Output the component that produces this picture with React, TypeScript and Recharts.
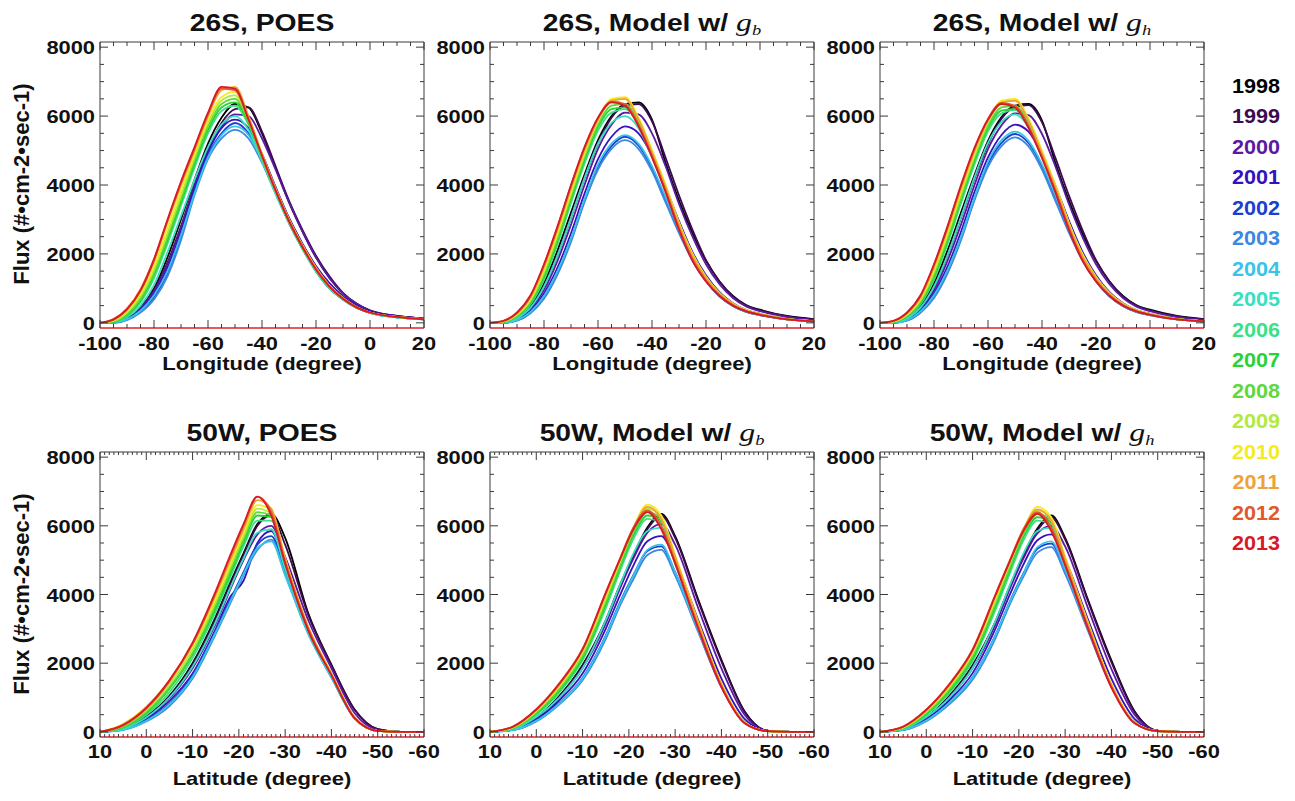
import { LineChart, Line, XAxis, YAxis } from "recharts";

const YEARS = ["1998", "1999", "2000", "2001", "2002", "2003", "2004", "2005", "2006", "2007", "2008", "2009", "2010", "2011", "2012", "2013"];
const COLORS = ["#000000", "#3d0b4f", "#5c1aa2", "#3412c0", "#1c3fd0", "#3a88e0", "#38c4e8", "#36e0c0", "#3ce088", "#2ad234", "#5fd83a", "#b2ea3c", "#f4ec1c", "#eea33a", "#e2582a", "#d81a26"];

// longitude grid (top row) and latitude grid (bottom row)
const LON = [-100, -95, -90, -85, -80, -75, -70, -65, -60, -55, -50, -45, -40, -35, -30, -25, -20, -15, -10, -5, 0, 10, 20];
const LAT = [10, 5, 0, -5, -10, -15, -18, -21, -24, -27, -30, -35, -40, -45, -50, -55, -60];

const LON_TICKS = [-100, -80, -60, -40, -20, 0, 20];
const LAT_TICKS = [10, 0, -10, -20, -30, -40, -50, -60];
const FLUX_TICKS = [0, 2000, 4000, 6000, 8000];

// 26S, POES (rows follow YEARS)
const poes26S = [
  [0, 30, 150, 450, 1000, 1900, 3000, 4150, 5200, 5950, 6350, 6250, 5500, 4500, 3500, 2650, 1900, 1300, 850, 550, 350, 200, 120],
  [0, 20, 140, 430, 950, 1750, 2800, 4000, 5050, 5800, 6200, 6250, 5550, 4550, 3550, 2700, 1950, 1350, 870, 560, 360, 200, 120],
  [0, 15, 130, 420, 920, 1700, 2750, 3950, 5000, 5700, 6050, 6000, 5350, 4450, 3500, 2650, 1900, 1300, 850, 550, 350, 200, 120],
  [0, 10, 120, 380, 850, 1600, 2650, 3900, 4950, 5650, 5900, 5650, 4900, 3950, 3050, 2300, 1650, 1150, 770, 500, 330, 180, 110],
  [0, 5, 100, 330, 750, 1450, 2500, 3800, 4850, 5500, 5800, 5500, 4750, 3800, 2900, 2150, 1500, 1000, 680, 440, 290, 160, 100],
  [0, 0, 80, 300, 680, 1350, 2400, 3700, 4750, 5350, 5600, 5350, 4650, 3750, 2900, 2150, 1500, 1000, 680, 440, 290, 160, 100],
  [0, 10, 100, 350, 800, 1500, 2550, 3750, 4800, 5450, 5700, 5450, 4700, 3800, 2900, 2150, 1500, 1000, 680, 440, 290, 160, 100],
  [0, 20, 160, 500, 1100, 2050, 3100, 4150, 5100, 5750, 6000, 5600, 4700, 3750, 2900, 2150, 1500, 1000, 680, 440, 290, 160, 100],
  [0, 30, 200, 600, 1300, 2300, 3400, 4500, 5500, 6150, 6300, 5750, 4750, 3800, 2900, 2150, 1500, 1000, 680, 440, 290, 160, 100],
  [0, 35, 220, 650, 1400, 2400, 3500, 4600, 5600, 6250, 6400, 5800, 4800, 3850, 2950, 2200, 1550, 1050, 700, 450, 300, 170, 100],
  [0, 40, 250, 700, 1450, 2500, 3600, 4700, 5700, 6350, 6500, 5850, 4800, 3850, 2950, 2200, 1550, 1050, 700, 450, 300, 170, 100],
  [0, 60, 300, 780, 1550, 2600, 3700, 4800, 5800, 6450, 6600, 5900, 4850, 3850, 2950, 2200, 1550, 1050, 700, 450, 300, 170, 100],
  [0, 80, 350, 850, 1650, 2750, 3850, 4900, 5900, 6550, 6700, 5950, 4900, 3900, 3000, 2250, 1600, 1080, 720, 460, 300, 170, 110],
  [0, 110, 420, 980, 1850, 2950, 4000, 5000, 6000, 6750, 6850, 6000, 4900, 3900, 3000, 2250, 1600, 1080, 720, 460, 300, 170, 110],
  [0, 90, 380, 920, 1800, 2950, 4050, 5050, 6050, 6800, 6750, 5900, 4850, 3850, 2950, 2200, 1550, 1050, 700, 450, 300, 170, 100],
  [0, 100, 400, 950, 1850, 3000, 4100, 5100, 6100, 6850, 6800, 5900, 4850, 3850, 2950, 2200, 1550, 1050, 700, 450, 300, 170, 100],
];

// 26S, model with g_b
const gb26S = [
  [0, 20, 150, 500, 1150, 2100, 3200, 4300, 5300, 6000, 6350, 6400, 5900, 4650, 3550, 2600, 1800, 1200, 780, 510, 380, 200, 110],
  [0, 15, 135, 460, 1050, 1950, 3050, 4200, 5200, 5950, 6300, 6350, 5850, 4800, 3700, 2700, 1820, 1200, 770, 500, 360, 190, 100],
  [0, 12, 120, 410, 950, 1800, 2850, 4000, 5050, 5750, 6100, 6050, 5500, 4550, 3450, 2500, 1700, 1120, 720, 470, 340, 170, 80],
  [0, 8, 100, 360, 850, 1600, 2600, 3750, 4750, 5400, 5700, 5500, 4850, 3950, 2950, 2050, 1380, 890, 570, 370, 260, 120, 55],
  [0, 3, 70, 300, 740, 1450, 2400, 3550, 4520, 5130, 5400, 5150, 4500, 3600, 2650, 1830, 1220, 780, 490, 320, 230, 100, 45],
  [0, 0, 60, 280, 700, 1400, 2350, 3500, 4450, 5050, 5300, 5050, 4400, 3500, 2600, 1800, 1200, 760, 480, 310, 220, 100, 45],
  [0, 5, 80, 320, 780, 1500, 2450, 3600, 4600, 5200, 5450, 5200, 4550, 3650, 2700, 1850, 1230, 790, 500, 330, 230, 100, 45],
  [0, 15, 130, 440, 1050, 1950, 3050, 4200, 5200, 5800, 6000, 5650, 4800, 3850, 2800, 1900, 1270, 820, 530, 340, 240, 105, 45],
  [0, 25, 170, 540, 1250, 2280, 3480, 4620, 5580, 6100, 6200, 5750, 4850, 3850, 2800, 1900, 1270, 820, 530, 340, 240, 105, 45],
  [0, 30, 190, 580, 1330, 2380, 3580, 4720, 5680, 6200, 6250, 5800, 4900, 3900, 2850, 1950, 1300, 840, 540, 350, 250, 110, 50],
  [0, 35, 210, 620, 1400, 2450, 3650, 4800, 5750, 6300, 6350, 5850, 4950, 3950, 2850, 1950, 1300, 840, 540, 350, 250, 110, 50],
  [0, 40, 230, 660, 1480, 2550, 3750, 4880, 5850, 6450, 6500, 5950, 5000, 4000, 2900, 2000, 1330, 860, 550, 360, 260, 110, 50],
  [0, 45, 250, 700, 1550, 2620, 3820, 4950, 5900, 6500, 6550, 5950, 5000, 4000, 2900, 2000, 1330, 860, 550, 360, 260, 110, 50],
  [0, 50, 270, 740, 1620, 2700, 3900, 5000, 5900, 6450, 6500, 5900, 4950, 3950, 2850, 1950, 1300, 840, 540, 350, 250, 110, 50],
  [0, 55, 290, 780, 1680, 2780, 3980, 5080, 5950, 6420, 6350, 5750, 4850, 3850, 2750, 1850, 1230, 800, 510, 340, 240, 100, 45],
  [0, 60, 300, 800, 1700, 2800, 4000, 5100, 5950, 6400, 6300, 5700, 4800, 3800, 2700, 1800, 1200, 780, 500, 330, 230, 100, 40],
];

// 26S, model with g_h
const gh26S = [
  [0, 20, 150, 500, 1150, 2100, 3200, 4290, 5280, 5970, 6300, 6350, 5870, 4630, 3540, 2590, 1800, 1200, 780, 510, 380, 200, 110],
  [0, 15, 135, 460, 1050, 1950, 3050, 4190, 5180, 5920, 6270, 6320, 5820, 4780, 3690, 2690, 1820, 1200, 770, 500, 360, 190, 100],
  [0, 12, 120, 410, 950, 1800, 2850, 4000, 5040, 5730, 6080, 6030, 5480, 4530, 3440, 2490, 1700, 1120, 720, 470, 340, 170, 80],
  [0, 8, 100, 370, 870, 1630, 2640, 3800, 4800, 5450, 5750, 5550, 4880, 3970, 2960, 2060, 1380, 890, 570, 370, 260, 120, 55],
  [0, 3, 70, 310, 760, 1480, 2450, 3600, 4600, 5220, 5480, 5220, 4550, 3630, 2660, 1840, 1220, 780, 490, 320, 230, 100, 45],
  [0, 0, 60, 290, 720, 1430, 2400, 3560, 4530, 5130, 5380, 5120, 4450, 3530, 2610, 1810, 1200, 760, 480, 310, 220, 100, 45],
  [0, 5, 80, 330, 800, 1530, 2500, 3650, 4680, 5300, 5550, 5280, 4600, 3680, 2710, 1860, 1230, 790, 500, 330, 230, 100, 45],
  [0, 15, 130, 440, 1050, 1960, 3070, 4220, 5220, 5830, 6050, 5680, 4810, 3860, 2800, 1900, 1270, 820, 530, 340, 240, 105, 45],
  [0, 25, 170, 540, 1250, 2280, 3470, 4600, 5560, 6080, 6180, 5730, 4840, 3840, 2790, 1890, 1270, 820, 530, 340, 240, 105, 45],
  [0, 30, 190, 580, 1330, 2380, 3570, 4700, 5650, 6160, 6200, 5770, 4880, 3890, 2840, 1940, 1300, 840, 540, 350, 250, 110, 50],
  [0, 35, 210, 620, 1400, 2450, 3640, 4780, 5720, 6250, 6300, 5820, 4930, 3930, 2840, 1940, 1300, 840, 540, 350, 250, 110, 50],
  [0, 40, 230, 660, 1480, 2550, 3740, 4860, 5820, 6400, 6450, 5920, 4980, 3980, 2890, 1990, 1330, 860, 550, 360, 260, 110, 50],
  [0, 45, 250, 700, 1550, 2620, 3810, 4930, 5860, 6450, 6500, 5920, 4980, 3980, 2890, 1990, 1330, 860, 550, 360, 260, 110, 50],
  [0, 50, 270, 740, 1620, 2700, 3890, 4980, 5860, 6400, 6450, 5860, 4920, 3930, 2840, 1940, 1300, 840, 540, 350, 250, 110, 50],
  [0, 55, 290, 780, 1680, 2780, 3970, 5060, 5920, 6380, 6300, 5700, 4820, 3830, 2740, 1840, 1230, 800, 510, 340, 240, 100, 45],
  [0, 60, 300, 800, 1700, 2800, 4000, 5080, 5900, 6350, 6250, 5650, 4780, 3780, 2690, 1800, 1200, 780, 500, 330, 230, 100, 40],
];

// 50W, POES
const poes50W = [
  [0, 100, 450, 1050, 2000, 3350, 4300, 5200, 6050, 6350, 5650, 3450, 1950, 650, 80, 0, 0],
  [0, 95, 430, 1030, 1950, 3300, 4250, 5150, 6000, 6300, 5450, 3400, 1950, 650, 80, 0, 0],
  [0, 90, 400, 980, 1850, 3150, 4100, 5000, 5750, 6000, 5100, 3250, 1850, 550, 60, 0, 0],
  [0, 80, 370, 900, 1700, 3000, 3900, 4400, 5500, 5850, 4850, 3000, 1650, 420, 30, 0, 0],
  [0, 70, 330, 820, 1650, 2950, 3800, 4650, 5450, 5700, 4700, 2900, 1600, 400, 30, 0, 0],
  [0, 60, 300, 750, 1550, 2850, 3700, 4550, 5300, 5600, 4600, 2850, 1580, 400, 30, 0, 0],
  [0, 60, 320, 800, 1600, 2900, 3750, 4600, 5350, 5550, 4550, 2850, 1580, 400, 30, 0, 0],
  [0, 90, 420, 1000, 1900, 3200, 4150, 5050, 5800, 5900, 4750, 2900, 1620, 400, 30, 0, 0],
  [0, 120, 500, 1150, 2150, 3500, 4450, 5400, 6150, 6150, 4900, 2950, 1650, 400, 30, 0, 0],
  [0, 140, 550, 1250, 2250, 3600, 4550, 5500, 6300, 6250, 4950, 3000, 1680, 410, 30, 0, 0],
  [0, 150, 580, 1300, 2300, 3700, 4650, 5600, 6400, 6300, 4950, 3000, 1680, 410, 30, 0, 0],
  [0, 180, 640, 1380, 2400, 3800, 4750, 5700, 6500, 6350, 5000, 3000, 1680, 410, 30, 0, 0],
  [0, 230, 730, 1480, 2500, 3900, 4850, 5800, 6600, 6450, 5050, 3050, 1700, 420, 30, 0, 0],
  [0, 220, 720, 1500, 2550, 4000, 4950, 5900, 6750, 6500, 5050, 3050, 1700, 420, 30, 0, 0],
  [0, 190, 680, 1470, 2560, 4050, 5050, 6000, 6850, 6400, 4950, 3000, 1650, 400, 30, 0, 0],
  [0, 200, 700, 1500, 2600, 4100, 5100, 6050, 6850, 6300, 4900, 2950, 1650, 400, 30, 0, 0],
];

// 50W, model with g_b
const gb50W = [
  [0, 90, 420, 1050, 1950, 3250, 4250, 5150, 5950, 6350, 5700, 3850, 2100, 600, 30, 0, 0],
  [0, 85, 410, 1030, 1920, 3220, 4220, 5120, 5900, 6300, 5650, 3800, 2050, 580, 30, 0, 0],
  [0, 75, 390, 990, 1850, 3150, 4150, 5050, 5800, 6050, 5450, 3600, 1850, 500, 30, 0, 0],
  [0, 65, 360, 920, 1700, 3000, 3950, 4850, 5550, 5700, 5000, 3250, 1550, 380, 30, 0, 0],
  [0, 55, 320, 840, 1570, 2800, 3750, 4570, 5270, 5400, 4650, 2950, 1320, 280, 20, 0, 0],
  [0, 50, 300, 800, 1500, 2700, 3650, 4450, 5150, 5300, 4550, 2900, 1300, 280, 20, 0, 0],
  [0, 55, 320, 830, 1550, 2780, 3720, 4550, 5300, 5450, 4650, 2950, 1320, 280, 20, 0, 0],
  [0, 80, 430, 1000, 1850, 3250, 4250, 5200, 5850, 5950, 4900, 3050, 1340, 270, 20, 0, 0],
  [0, 100, 500, 1150, 2080, 3600, 4650, 5620, 6200, 6100, 4950, 3050, 1340, 270, 20, 0, 0],
  [0, 110, 530, 1200, 2150, 3700, 4750, 5720, 6300, 6150, 5000, 3100, 1360, 270, 20, 0, 0],
  [0, 120, 560, 1250, 2220, 3780, 4820, 5800, 6400, 6200, 5050, 3100, 1360, 270, 20, 0, 0],
  [0, 130, 600, 1320, 2300, 3880, 4920, 5900, 6500, 6250, 5100, 3150, 1380, 270, 20, 0, 0],
  [0, 140, 620, 1350, 2350, 3950, 4980, 5950, 6620, 6300, 5150, 3200, 1400, 280, 20, 0, 0],
  [0, 150, 640, 1380, 2380, 4000, 5000, 5950, 6550, 6200, 5100, 3150, 1380, 270, 20, 0, 0],
  [0, 160, 660, 1420, 2420, 4050, 5020, 5950, 6450, 6000, 4950, 3050, 1330, 260, 20, 0, 0],
  [0, 150, 650, 1400, 2400, 4050, 5000, 5900, 6400, 5900, 4900, 3000, 1300, 250, 20, 0, 0],
];

// 50W, model with g_h
const gh50W = [
  [0, 90, 420, 1050, 1940, 3230, 4230, 5130, 5920, 6300, 5650, 3820, 2080, 600, 30, 0, 0],
  [0, 85, 410, 1030, 1910, 3200, 4200, 5100, 5870, 6250, 5600, 3780, 2030, 580, 30, 0, 0],
  [0, 75, 390, 990, 1850, 3150, 4150, 5050, 5780, 6000, 5400, 3580, 1830, 500, 30, 0, 0],
  [0, 65, 360, 920, 1710, 3020, 3980, 4880, 5580, 5750, 5020, 3250, 1550, 380, 30, 0, 0],
  [0, 55, 330, 850, 1590, 2830, 3780, 4620, 5330, 5480, 4700, 2980, 1320, 280, 20, 0, 0],
  [0, 50, 310, 810, 1520, 2740, 3700, 4520, 5220, 5380, 4600, 2920, 1300, 280, 20, 0, 0],
  [0, 55, 330, 850, 1580, 2820, 3760, 4600, 5380, 5550, 4720, 2980, 1320, 280, 20, 0, 0],
  [0, 80, 430, 1000, 1860, 3250, 4250, 5200, 5850, 5950, 4880, 3030, 1330, 270, 20, 0, 0],
  [0, 95, 490, 1140, 2060, 3570, 4600, 5580, 6150, 6050, 4920, 3030, 1330, 270, 20, 0, 0],
  [0, 105, 520, 1190, 2130, 3670, 4700, 5680, 6250, 6100, 4960, 3080, 1350, 270, 20, 0, 0],
  [0, 115, 550, 1240, 2200, 3750, 4780, 5750, 6350, 6150, 5000, 3080, 1350, 270, 20, 0, 0],
  [0, 125, 590, 1300, 2280, 3850, 4880, 5850, 6450, 6200, 5050, 3120, 1370, 270, 20, 0, 0],
  [0, 135, 610, 1340, 2330, 3920, 4940, 5900, 6550, 6250, 5100, 3170, 1390, 280, 20, 0, 0],
  [0, 145, 630, 1370, 2360, 3970, 4960, 5900, 6480, 6150, 5050, 3120, 1370, 270, 20, 0, 0],
  [0, 155, 650, 1400, 2400, 4020, 4980, 5900, 6400, 5950, 4900, 3020, 1320, 260, 20, 0, 0],
  [0, 150, 640, 1380, 2380, 4000, 4950, 5850, 6350, 5850, 4850, 2980, 1290, 250, 20, 0, 0],
];

const FONT = "'Liberation Sans', Arial, Helvetica, sans-serif";
const SERIF = "'Liberation Serif', 'Times New Roman', serif";
const BOX = "#3a3a3a";
const SX = 1.15;

const range = (a: number, b: number, s: number) => {
  const out: number[] = [];
  for (let v = a; v <= b; v += s) out.push(v);
  return out;
};
const LON_MINOR = range(-100, 20, 5);
const LAT_MINOR = range(-60, 10, 1);
const FLUX_MINOR = range(0, 8000, 500);

function buildRows(grid: number[], series: number[][]) {
  return grid.map((x, i) => {
    const row: Record<string, number> = { x };
    YEARS.forEach((yr, k) => {
      row[yr] = series[k][i];
    });
    return row;
  });
}

function bottomTick(t: any, majors: number[], minorLen: number, labelDy: number) {
  const { x, y, payload } = t;
  const major = majors.includes(payload.value);
  return (
    <g>
      <line x1={x} y1={y} x2={x} y2={y - (major ? 8 : minorLen)} stroke={BOX} />
      {major && (
        <text transform={`translate(${x} ${y + labelDy}) scale(${SX} 1)`} textAnchor="middle" fontSize={19} fontWeight="bold" fontFamily={FONT} fill="#111">
          {payload.value}
        </text>
      )}
    </g>
  );
}

function topTick(t: any, majors: number[], minorLen: number) {
  const { x, y, payload } = t;
  const major = majors.includes(payload.value);
  return <line x1={x} y1={y} x2={x} y2={y + (major ? 8 : minorLen)} stroke={BOX} />;
}

function leftTick(t: any) {
  const { x, y, payload } = t;
  const major = FLUX_TICKS.includes(payload.value);
  return (
    <g>
      <line x1={x} y1={y} x2={x + (major ? 8 : 4)} y2={y} stroke={BOX} />
      {major && (
        <text transform={`translate(${x - 5} ${y + 7}) scale(${SX} 1)`} textAnchor="end" fontSize={19} fontWeight="bold" fontFamily={FONT} fill="#111">
          {payload.value}
        </text>
      )}
    </g>
  );
}

function rightTick(t: any) {
  const { x, y, payload } = t;
  const major = FLUX_TICKS.includes(payload.value);
  return <line x1={x} y1={y} x2={x - (major ? 8 : 4)} y2={y} stroke={BOX} />;
}

type PanelProps = {
  left: number;
  top: number;
  plotH: number;
  grid: number[];
  series: number[][];
  domain: [number, number];
  reversed?: boolean;
  majors: number[];
  minors: number[];
  minorLen: number;
  labelDy: number;
};

function Panel(p: PanelProps) {
  const data = buildRows(p.grid, p.series);
  const W = 60 + 324 + 22;
  const H = 10 + p.plotH + 40;
  return (
    <div style={{ position: "absolute", left: p.left - 60, top: p.top - 10 }}>
      <LineChart width={W} height={H} data={data} margin={{ top: 9, right: 21, bottom: 0, left: 0 }}>
        <XAxis
          xAxisId="x"
          dataKey="x"
          type="number"
          domain={p.domain}
          reversed={p.reversed}
          ticks={p.minors}
          interval={0}
          height={40}
          tickLine={false}
          tickSize={0}
          tickMargin={0}
          allowDataOverflow
          axisLine={{ stroke: "#e0202a", strokeWidth: 1.5 }}
          tick={(t: any) => bottomTick(t, p.majors, p.minorLen, p.labelDy)}
        />
        <XAxis
          xAxisId="top"
          dataKey="x"
          orientation="top"
          type="number"
          domain={p.domain}
          reversed={p.reversed}
          ticks={p.minors}
          interval={0}
          height={1}
          tickLine={false}
          tickSize={0}
          tickMargin={0}
          allowDataOverflow
          axisLine={{ stroke: BOX }}
          tick={(t: any) => topTick(t, p.majors, p.minorLen)}
        />
        <YAxis
          yAxisId="y"
          type="number"
          domain={[-150, 8150]}
          ticks={FLUX_MINOR}
          interval={0}
          width={60}
          tickLine={false}
          tickSize={0}
          tickMargin={0}
          allowDataOverflow
          axisLine={{ stroke: BOX }}
          tick={leftTick}
        />
        <YAxis
          yAxisId="r"
          orientation="right"
          type="number"
          domain={[-150, 8150]}
          ticks={FLUX_MINOR}
          interval={0}
          width={1}
          tickLine={false}
          tickSize={0}
          tickMargin={0}
          allowDataOverflow
          axisLine={{ stroke: BOX }}
          tick={rightTick}
        />
        {/* invisible series so the mirrored top/right axes get drawn */}
        <Line xAxisId="top" yAxisId="r" dataKey="2013" stroke="none" dot={false} activeDot={false} isAnimationActive={false} />
        {YEARS.map((yr, k) => (
          <Line
            key={yr}
            xAxisId="x"
            yAxisId="y"
            dataKey={yr}
            type="monotone"
            stroke={COLORS[k]}
            strokeWidth={1.8}
            dot={false}
            isAnimationActive={false}
          />
        ))}
      </LineChart>
    </div>
  );
}

function Title({ cx, y, prefix, sub }: { cx: number; y: number; prefix: string; sub?: string }) {
  return (
    <text transform={`translate(${cx} ${y}) scale(1.23 1)`} textAnchor="middle" fontSize={23} fontWeight="bold" fontFamily={FONT} fill="#111">
      {prefix}
      {sub && (
        <>
          <tspan fontFamily={SERIF} fontStyle="italic" fontWeight="normal" fontSize={26}>g</tspan>
          <tspan fontFamily={SERIF} fontStyle="italic" fontWeight="normal" fontSize={15} dy={4}>{sub}</tspan>
        </>
      )}
    </text>
  );
}

const PLOT_LEFTS = [100, 490, 880];

export default function App() {
  const topRow = [poes26S, gb26S, gh26S];
  const botRow = [poes50W, gb50W, gh50W];
  return (
    <div style={{ position: "absolute", left: 0, top: 0, width: 1295, height: 801, background: "#fff", overflow: "hidden" }}>
      {topRow.map((s, i) => (
        <Panel key={"t" + i} left={PLOT_LEFTS[i]} top={42} plotH={286} grid={LON} series={s} domain={[-100, 20]} majors={LON_TICKS} minors={LON_MINOR} minorLen={4} labelDy={22} />
      ))}
      {botRow.map((s, i) => (
        <Panel key={"b" + i} left={PLOT_LEFTS[i]} top={452} plotH={285} grid={LAT} series={s} domain={[-60, 10]} reversed majors={LAT_TICKS} minors={LAT_MINOR} minorLen={3} labelDy={21} />
      ))}
      <svg width={1295} height={801} style={{ position: "absolute", left: 0, top: 0, pointerEvents: "none" }}>
        <Title cx={262} y={31} prefix="26S, POES" />
        <Title cx={652} y={31} prefix="26S, Model w/ " sub="b" />
        <Title cx={1042} y={31} prefix="26S, Model w/ " sub="h" />
        <Title cx={262} y={441} prefix="50W, POES" />
        <Title cx={652} y={441} prefix="50W, Model w/ " sub="b" />
        <Title cx={1042} y={441} prefix="50W, Model w/ " sub="h" />
        {PLOT_LEFTS.map((l) => (
          <text key={"lx" + l} transform={`translate(${l + 162} 370) scale(1.16 1)`} textAnchor="middle" fontSize={19} fontWeight="bold" fontFamily={FONT} fill="#111">
            Longitude (degree)
          </text>
        ))}
        {PLOT_LEFTS.map((l) => (
          <text key={"la" + l} transform={`translate(${l + 162} 785) scale(1.16 1)`} textAnchor="middle" fontSize={19} fontWeight="bold" fontFamily={FONT} fill="#111">
            Latitude (degree)
          </text>
        ))}
        {[184, 594].map((cy) => (
          <text key={"fy" + cy} transform={`translate(29 ${cy}) rotate(-90)`} textAnchor="middle" fontSize={22} fontWeight="bold" fontFamily={FONT} fill="#111">
            Flux (#•cm-2•sec-1)
          </text>
        ))}
        {YEARS.map((yr, k) => (
          <text key={yr} transform={`translate(1256 ${92.5 + k * 30.5}) scale(1.08 1)`} textAnchor="middle" fontSize={20} fontWeight="bold" fontFamily={FONT} fill={COLORS[k]}>
            {yr}
          </text>
        ))}
      </svg>
    </div>
  );
}
